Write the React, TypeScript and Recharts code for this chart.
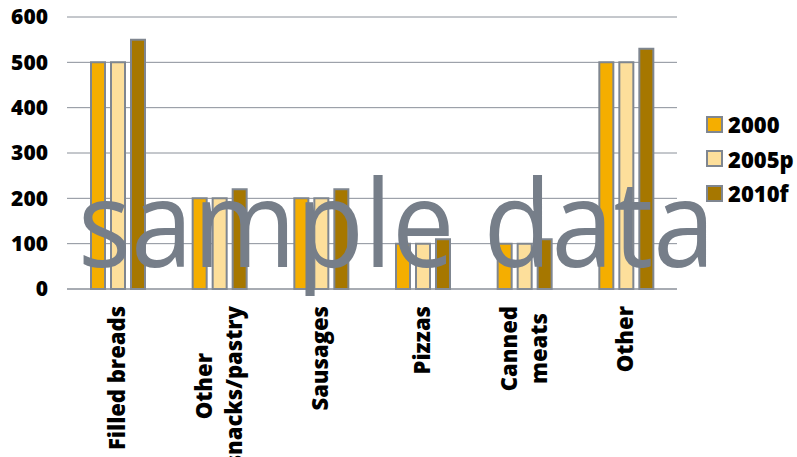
import React from "react";
import { BarChart, Bar, XAxis, YAxis, CartesianGrid, Legend } from "recharts";

const categories = ["Filled breads", "Other snacks/pastry", "Sausages", "Pizzas", "Canned meats", "Other"];
const categoryLines = [
  ["Filled breads"],
  ["Other", "snacks/pastry"],
  ["Sausages"],
  ["Pizzas"],
  ["Canned", "meats"],
  ["Other"],
];
const values2000 = [500, 200, 200, 100, 100, 500];
const values2005p = [500, 200, 200, 100, 100, 500];
const values2010f = [550, 220, 220, 110, 110, 530];
const yTicks = [0, 100, 200, 300, 400, 500, 600];

const seriesNames = ["2000", "2005p", "2010f"];
const seriesColors = ["#F5AE00", "#FDDF9B", "#A67700"];
const STROKE = "#7F8690";
const FONT = "'Open Sans', sans-serif";
const WEIGHT = 800;

const data = categories.map((c, i) => ({
  name: c,
  s2000: values2000[i],
  s2005p: values2005p[i],
  s2010f: values2010f[i],
}));

let ctx: CanvasRenderingContext2D | null = null;
function measure(text: string, font: string) {
  if (!ctx) {
    const c = document.createElement("canvas");
    ctx = c.getContext("2d");
  }
  if (!ctx) return text.length * 11;
  ctx.font = font;
  return ctx.measureText(text).width;
}

const CatTick = (props: any) => {
  const { x, y, index } = props;
  const lines = categoryLines[index] || [String(props.payload.value)];
  const font = `${WEIGHT} 22px 'Open Sans'`;
  const L = Math.max(...lines.map((l) => measure(l, font)));
  const n = lines.length;
  return (
    <g transform={`translate(${x},${y}) rotate(-90)`}>
      {lines.map((l, i) => (
        <text
          key={i}
          x={-L / 2}
          y={7 + (i - (n - 1) / 2) * 30}
          textAnchor="middle"
          fontFamily={FONT}
          fontWeight={WEIGHT}
          fontSize={22}
          fill="#000"
        >
          {l}
        </text>
      ))}
    </g>
  );
};

const LegendContent = () => (
  <div style={{ fontFamily: FONT, fontWeight: WEIGHT, fontSize: 22, color: "#000", width: 91, whiteSpace: "nowrap" }}>
    {seriesNames.map((n, i) => (
      <div key={n} style={{ display: "flex", alignItems: "center", height: 34.5 }}>
        <div
          style={{
            width: 13,
            height: 13,
            background: seriesColors[i],
            border: `2px solid ${STROKE}`,
            marginRight: 5,
            flexShrink: 0,
          }}
        />
        <span style={{ lineHeight: "24px" }}>{n}</span>
      </div>
    ))}
  </div>
);

export default function App() {
  return (
    <div style={{ position: "absolute", left: 0, top: 0, width: 797, height: 457, background: "#fff" }}>
      <BarChart
        width={797}
        height={457}
        data={data}
        margin={{ top: 17, right: 120, bottom: 0, left: 0 }}
        barSize={14}
        barGap={6}
      >
        <CartesianGrid vertical={false} stroke="#8A9099" strokeWidth={1} />
        <XAxis
          dataKey="name"
          height={168}
          interval={0}
          tickLine={false}
          tickSize={0}
          tickMargin={17}
          axisLine={{ stroke: "#8A9099" }}
          tick={<CatTick />}
        />
        <YAxis
          width={67}
          domain={[0, 600]}
          ticks={yTicks}
          axisLine={false}
          tickLine={false}
          tickSize={0}
          tickMargin={19}
          tick={{ fontFamily: FONT, fontWeight: WEIGHT, fontSize: 21, fill: "#000" }}
        />
        <Legend
          layout="vertical"
          content={<LegendContent />}
          wrapperStyle={{ position: "absolute", left: 706, top: 107, width: 0, height: 0, overflow: "visible" }}
        />
        <Bar dataKey="s2000" name="2000" fill={seriesColors[0]} stroke={STROKE} strokeWidth={2} isAnimationActive={false} />
        <Bar dataKey="s2005p" name="2005p" fill={seriesColors[1]} stroke={STROKE} strokeWidth={2} isAnimationActive={false} />
        <Bar dataKey="s2010f" name="2010f" fill={seriesColors[2]} stroke={STROKE} strokeWidth={2} isAnimationActive={false} />
      </BarChart>
      <svg
        width={797}
        height={457}
        style={{ position: "absolute", left: 0, top: 0, pointerEvents: "none" }}
      >
        <text
          x={78}
          y={267}
          fontFamily={FONT}
          fontSize={121}
          fill="#767E89"
          textLength={637}
          lengthAdjust="spacingAndGlyphs"
        >
          sample data
        </text>
      </svg>
    </div>
  );
}
